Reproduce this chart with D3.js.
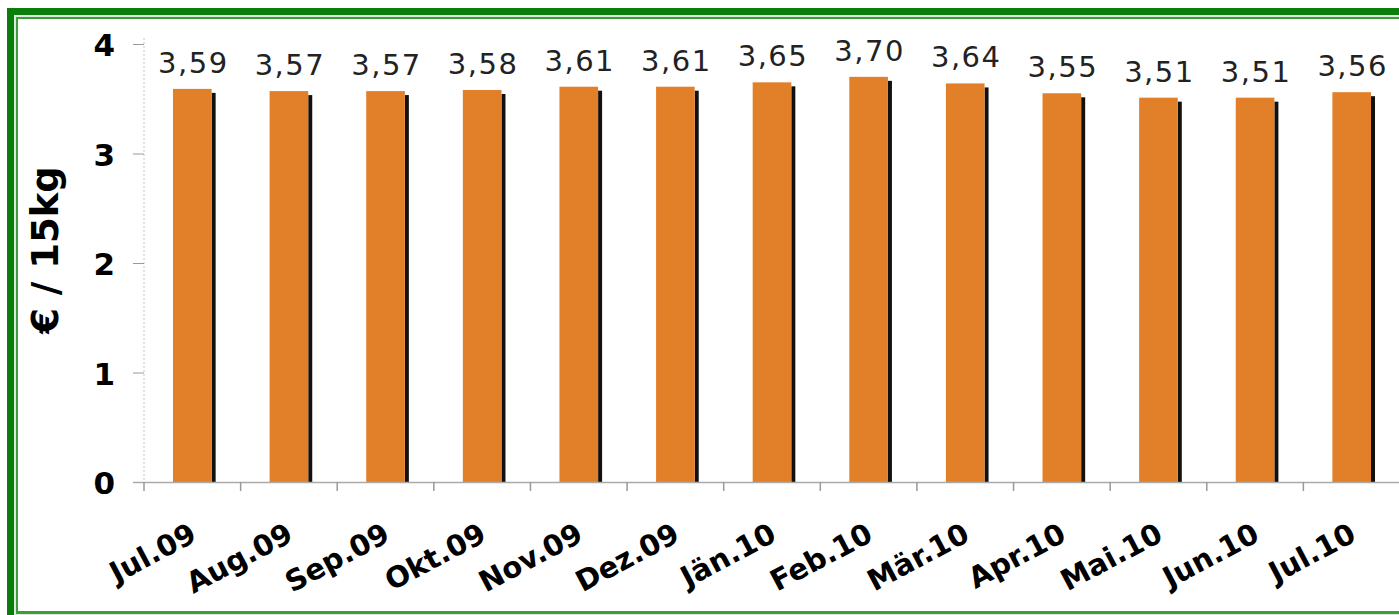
<!DOCTYPE html>
<html><head><meta charset="utf-8">
<script src="https://cdn.jsdelivr.net/npm/d3@7"></script>
<style>html,body{margin:0;padding:0;background:#fff;overflow:hidden}</style>
</head><body>
<svg id="c" width="1399" height="615"></svg>
<script>
const categories = ["Jul.09","Aug.09","Sep.09","Okt.09","Nov.09","Dez.09","Jän.10","Feb.10","Mär.10","Apr.10","Mai.10","Jun.10","Jul.10"];
const values = [3.59,3.57,3.57,3.58,3.61,3.61,3.65,3.70,3.64,3.55,3.51,3.51,3.56];
const yTicks = [0,1,2,3,4];
const yTitle = "€ / 15kg";

const svg = d3.select("#c");
// frame
svg.append("rect").attr("x",0).attr("y",0).attr("width",1399).attr("height",615).attr("fill","#fff");
svg.append("rect").attr("x",7).attr("y",8).attr("width",1420).attr("height",640).attr("fill","#0b7d0b");
svg.append("rect").attr("x",14).attr("y",15).attr("width",1420).attr("height",600).attr("fill","#d9ecd9");
svg.append("rect").attr("x",16).attr("y",17).attr("width",1420).attr("height",597).attr("fill","#3d9c3d");
svg.append("rect").attr("x",18).attr("y",19).attr("width",1420).attr("height",592).attr("fill","#fff");

const x = d3.scaleBand().domain(categories).range([144,1400]).paddingInner(0.6).paddingOuter(0.3);
const y = d3.scaleLinear().domain([0,4]).range([482,44]);
const gapHalf = (x.step()-x.bandwidth())/2;

// vertical dotted axis line
svg.append("line").attr("x1",144).attr("x2",144).attr("y1",y(4)-6).attr("y2",y(0))
  .attr("stroke","#c8c4dc").attr("stroke-width",1).attr("stroke-dasharray","2,2");

// y ticks
const yAxis = d3.axisLeft(y).tickValues(yTicks).tickSize(11).tickFormat(d3.format("d"));
const gy = svg.append("g").attr("transform","translate(144,0)").call(yAxis);
gy.select(".domain").remove();
gy.selectAll(".tick line").attr("stroke","#999");
gy.selectAll(".tick text").attr("x",-29).attr("dy","0.38em")
  .attr("font-family","DejaVu Sans").attr("font-weight","bold").attr("font-size",31).attr("fill","#000");

// bars shadow
const sw = 4;
svg.append("g").selectAll("rect").data(values).join("rect")
  .attr("x",(d,i)=>x(categories[i])+x.bandwidth())
  .attr("y",d=>y(d)+4)
  .attr("width",sw)
  .attr("height",d=>y(0)-y(d)-4)
  .attr("fill","#111");
svg.append("g").selectAll("rect").data(values).join("rect")
  .attr("x",(d,i)=>x(categories[i]))
  .attr("y",d=>y(d))
  .attr("width",x.bandwidth())
  .attr("height",d=>y(0)-y(d))
  .attr("fill","#e2802a");

// x axis line
svg.append("line").attr("x1",133).attr("x2",1399).attr("y1",y(0)+0.5).attr("y2",y(0)+0.5).attr("stroke","#aaa").attr("stroke-width",1.5);
// category boundary ticks
svg.append("g").selectAll("line").data(categories).join("line")
  .attr("x1",d=>x(d)-gapHalf).attr("x2",d=>x(d)-gapHalf)
  .attr("y1",y(0)).attr("y2",y(0)+9).attr("stroke","#999").attr("stroke-width",1.5);

// value labels
const fmt = d => d.toFixed(2).replace(".",",");
svg.append("g").selectAll("text").data(values).join("text")
  .attr("x",(d,i)=>x(categories[i])+x.bandwidth()/2+1)
  .attr("y",d=>y(d)-16)
  .attr("text-anchor","middle")
  .attr("font-family","DejaVu Sans").attr("font-size",29).attr("letter-spacing",1.5).attr("fill","#222")
  .text(fmt);

// x labels
svg.append("g").selectAll("text").data(categories).join("text")
  .attr("transform",d=>`translate(${x(d)+x.bandwidth()/2+6},${y(0)+58}) rotate(-28)`)
  .attr("text-anchor","end")
  .attr("font-family","DejaVu Sans").attr("font-weight","bold").attr("font-size",29).attr("fill","#000")
  .text(d=>d);

// y title
svg.append("text").attr("transform","translate(58,250) rotate(-90)")
  .attr("text-anchor","middle").attr("font-family","DejaVu Sans").attr("font-weight","bold")
  .attr("font-size",37).attr("fill","#000").text(yTitle);
</script>
</body></html>
